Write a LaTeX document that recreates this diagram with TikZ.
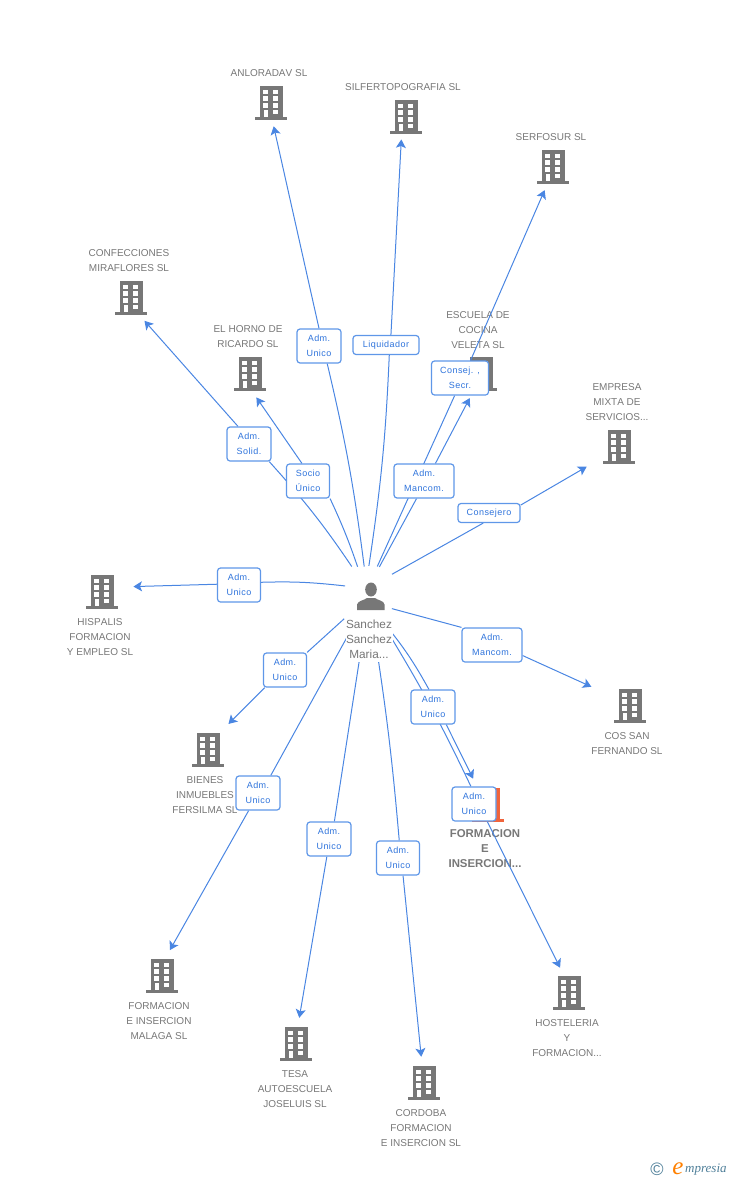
\documentclass[tikz,border=0pt]{standalone}
\usepackage{fontspec}
\setmainfont[Kerning=Off]{Liberation Sans}
\newfontfamily\lblfont[LetterSpace=5]{Liberation Sans}
\newfontfamily\logofont{Liberation Serif}
\usetikzlibrary{arrows.meta}
\definecolor{iconc}{HTML}{777777}
\definecolor{linkc}{HTML}{4A86E2}
\definecolor{boxc}{HTML}{5F97E8}
\definecolor{lblc}{HTML}{2F74DC}
\definecolor{hotc}{HTML}{F0643C}
\definecolor{logoc}{HTML}{4F7F99}
\pgfdeclarelayer{front}
\pgfsetlayers{main,front}
\tikzset{
  bldg/.style={circle, inner sep=0pt, minimum size=50pt, path picture={
    \begin{scope}[shift={(path picture bounding box.center)}]
      \fill[#1] (-11,-16.7) rectangle (11.5,15);
      \fill[#1] (-16,14.3) rectangle (16,16.7);
      \foreach \wy in {-13.3,-6.7,0} {
        \fill[white] (-7.8,\wy) rectangle (-2.8,\wy+4.7);
        \fill[white] (2.2,\wy) rectangle (7,\wy+4.7);
      }
      \fill[white] (-7.3,6.7) rectangle (-3.2,14.3);
      \fill[white] (2.2,6.7) rectangle (7,11.4);
    \end{scope}}},
  bldg/.default=iconc,
  person/.style={circle, inner sep=0pt, minimum size=60pt, path picture={
    \begin{scope}[shift={(path picture bounding box.center)}]
      \fill[iconc] (0,-6.5) ellipse (5.8 and 7);
      \fill[iconc] (-14,14) -- (-14,8.5) .. controls (-13,4.5) and (-7,4.5) .. (-4,2)
        -- (4,2) .. controls (7,4.5) and (13,4.5) .. (13.5,8.5) -- (13.5,14) -- cycle;
    \end{scope}}},
  tag/.style={text=iconc, align=center, font=\fontsize{10}{15}\selectfont, inner sep=0pt, yshift=-0.7pt},
  lbl/.style={draw=boxc, line width=1.2pt, rounded corners=3pt, fill=white, text=lblc,
    align=center, inner sep=0pt, minimum height=34pt, font=\lblfont\fontsize{9}{15}\selectfont},
  link/.style={draw=linkc, line width=1pt, -{Stealth[length=8.5pt,width=10pt,inset=2pt]}},
  stem/.style={draw=linkc, line width=1pt},
}
\begin{document}
\begin{tikzpicture}[x=1pt,y=-1pt]
  \useasboundingbox (0,0) rectangle (728,1180);

  % companies
  \foreach \n/\x/\y/\tx/\ty/\t in {
    anloradav/271/103/269/72/{ANLORADAV SL},
    silferto/406/117/403/86/{SILFERTOPOGRAFIA SL},
    serfosur/553/167/551/136/{SERFOSUR SL},
    confecc/131/298/129/259.5/{CONFECCIONES\\MIRAFLORES SL},
    horno/250/374/248/335.5/{EL HORNO DE\\RICARDO SL},
    escuela/481/374/478/329/{ESCUELA DE\\COCINA\\VELETA SL},
    empresa/619/447/617/401/{EMPRESA\\MIXTA DE\\SERVICIOS...},
    hispalis/102/592/100/636/{HISPALIS\\FORMACION\\Y EMPLEO SL},
    cos/630/706/627/742.5/{COS SAN\\FERNANDO SL},
    bienes/208/750/205/794/{BIENES\\INMUEBLES\\FERSILMA SL},
    hosteleria/569/993/567/1037/{HOSTELERIA\\Y\\FORMACION...},
    malaga/162/976/159/1020/{FORMACION\\E INSERCION\\MALAGA SL},
    tesa/296/1044/295/1088/{TESA\\AUTOESCUELA\\JOSELUIS SL},
    cordoba/424/1083/421/1127/{CORDOBA\\FORMACION\\E INSERCION SL}}
    {
      \node[bldg] (\n) at (\x,\y) {};
      \node[tag] (\n t) at (\tx,\ty) {\t};
    }
  \node[bldg=hotc] (formacion) at (488,805) {};
  \node[tag, font=\fontsize{11.4}{15}\selectfont\bfseries] (formacion t) at (485,848.3) {FORMACION\\E\\INSERCION...};

  \node[person] (me) at (371,596) {};

  % role boxes
  \begin{pgfonlayer}{front}
    \node[tag, fill=white, font=\fontsize{11.8}{15}\selectfont, minimum width=47pt, minimum height=46pt] (me t) at (369,638.3) {Sanchez\\Sanchez\\Maria...};
    \node[lbl, minimum width=44pt] (r1) at (319,346) {Adm.\\Unico};
    \node[lbl, minimum width=66pt, minimum height=19pt] (r2) at (386,345) {Liquidador};
    \node[lbl, minimum width=57pt] (r3) at (460,378) {Consej. ,\\Secr.};
    \node[lbl, minimum width=44pt] (r4) at (249,444) {Adm.\\Solid.};
    \node[lbl, minimum width=43pt] (r5) at (308,481) {Socio\\Único};
    \node[lbl, minimum width=60pt] (r6) at (424,481) {Adm.\\Mancom.};
    \node[lbl, minimum width=62pt, minimum height=19pt] (r7) at (489,513) {Consejero};
    \node[lbl, minimum width=43pt] (r8) at (239,585) {Adm.\\Unico};
    \node[lbl, minimum width=60pt] (r9) at (492,645) {Adm.\\Mancom.};
    \node[lbl, minimum width=43pt] (r10) at (285,670) {Adm.\\Unico};
    \node[lbl, minimum width=44pt] (r11) at (433,707) {Adm.\\Unico};
    \node[lbl, minimum width=44pt] (r12) at (474,804) {Adm.\\Unico};
    \node[lbl, minimum width=44pt] (r13) at (258,793) {Adm.\\Unico};
    \node[lbl, minimum width=44pt] (r14) at (329,839) {Adm.\\Unico};
    \node[lbl, minimum width=43pt] (r15) at (398,858) {Adm.\\Unico};
  \end{pgfonlayer}

  % connectors
  \draw[stem] (me.103.6) to[bend right=3] (r1.295.2);
  \draw[link, shorten >=-1.8pt] (r1.north) -- (anloradav.277.4);
  \draw[stem] (me.94) to[bend right=3] (r2.288);
  \draw[link, shorten >=-2.3pt] (r2.64.8) -- (silferto.259);
  \draw[stem] (me.78.3) -- (r3.253.6);
  \draw[link, shorten >=-0.6pt] (r3.59.5) -- (serfosur.250.8);
  \draw[stem, shorten <=5pt] (me.123.2) to[bend right=4] (r4.319.6);
  \draw[link, shorten >=1.3pt] (r4.122.9) -- (confecc.300.4);
  \draw[stem, shorten <=2pt] (me.115.8) to[bend right=3] (r5.south east);
  \draw[link, shorten >=-1pt] (r5.109.4) -- (horno.286.9);
  \draw[stem] (me.74.6) -- (r6.247.6);
  \draw[link, shorten >=1.4pt] (r6.57.1) -- (escuela.245.4);
  \draw[stem] (me.46.3) -- (r7.240.4);
  \draw[link, shorten >=12.7pt] (r7.14.5) -- (empresa.212);
  \draw[stem, shorten <=-2.5pt] (me.160.9) to[bend right=4] (r8.7.8);
  \draw[link, shorten >=6.8pt] (r8.178.7) -- (hispalis.12.7);
  \draw[stem, shorten <=-6pt] (me.332.4) -- (r9.150);
  \draw[link, shorten >=18pt] (r9.341.6) -- (cos.152.2);
  \draw[stem, shorten <=5pt] (me.220.4) -- (r10.north east);
  \draw[link, shorten >=8pt] (r10.221.8) -- (bienes.54.9);
  \draw[stem] (me.296) to[bend left=5] (r11.103.2);
  \draw[link, shorten >=5pt] (r11.307.4) -- (formacion.120);
  \draw[stem] (me.293.2) to[bend left=3] (r12.100);
  \draw[link, shorten >=1.6pt] (r12.307.4) -- (hosteleria.109.8);
  \draw[stem] (me.239.4) -- (r13.54.8);
  \draw[link, shorten >=1.9pt] (r13.242.1) -- (malaga.74.9);
  \draw[stem] (me.258.2) -- (r14.73.6);
  \draw[link, shorten >=1.2pt] (r14.263.3) -- (tesa.83.4);
  \draw[stem] (me.274.3) to[bend left=2] (r15.86.6);
  \draw[link, shorten >=1.2pt] (r15.286.4) -- (cordoba.96.6);

  % logo
  \node[inner sep=0pt, text=logoc, font=\fontsize{18}{18}\selectfont] (logo c) at (657,1169) {©};
  \node[inner sep=0pt, text=orange, font=\logofont\itshape\fontsize{25}{25}\selectfont] (logo e) at (678,1169) {e};
  \node[inner sep=0pt, anchor=west, text=logoc, font=\logofont\itshape\fontsize{13}{13}\selectfont] (logo t) at (685,1170) {mpresia};
\end{tikzpicture}
\end{document}
